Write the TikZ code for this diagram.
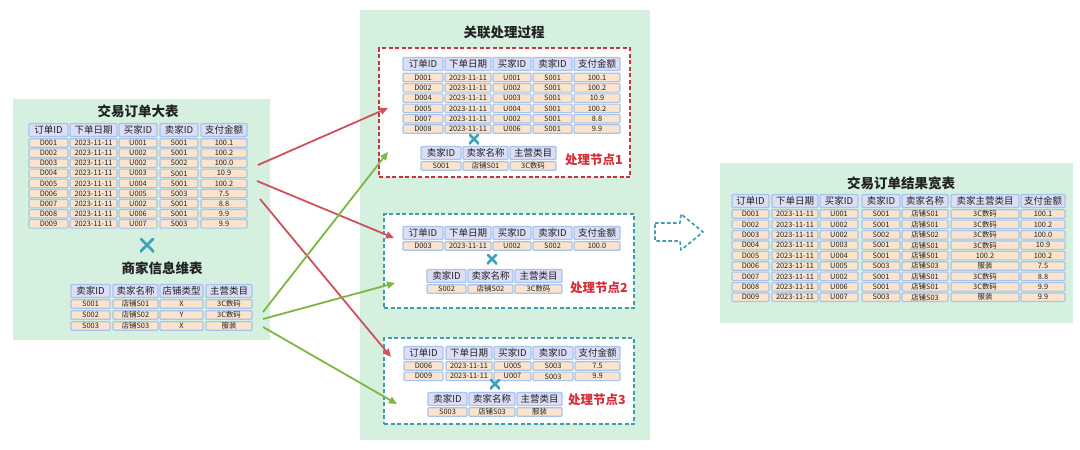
\documentclass[tikz,border=0pt]{standalone}
\usepackage{fontspec}
\setmainfont{Noto Sans CJK SC}
\usetikzlibrary{arrows.meta}
\definecolor{panelgreen}{HTML}{D5F0DF}
\definecolor{cellborder}{HTML}{A6C4EE}
\definecolor{hdrfill}{HTML}{DCDDF6}
\definecolor{datafill}{HTML}{FBE4CB}
\definecolor{redline}{HTML}{D0505C}
\definecolor{greenline}{HTML}{7CB744}
\definecolor{reddash}{HTML}{C9323F}
\definecolor{tealdash}{HTML}{3E9DB0}
\definecolor{xcol}{HTML}{3AA2BA}
\definecolor{labred}{HTML}{D42F3A}
\definecolor{ink}{HTML}{222222}
\newcommand\cellat[5]{\node[#1,minimum width={#3-#2}] at ({(#2+#3)/2},#4) {#5};}
\begin{document}
\begin{tikzpicture}[x=1pt,y=-1pt,
  panel/.style={fill=panelgreen,draw=none,inner sep=0pt,anchor=north west},
  nodebox/.style={fill=white,line width=2pt,dash pattern=on 4pt off 2.5pt,inner sep=0pt,anchor=north west},
  hc/.style={draw=cellborder,fill=hdrfill,line width=1.1pt,rounded corners=1pt,inner sep=0pt,minimum height=13pt,text=ink,font=\fontsize{9.5}{9.5}\selectfont},
  dc/.style={draw=cellborder,fill=datafill,line width=1.1pt,rounded corners=1pt,inner sep=0pt,minimum height=8.5pt,text=ink,font=\fontsize{7.4}{7.4}\selectfont},
  ttl/.style={text=ink,font=\fontsize{13.5}{13.5}\selectfont\bfseries},
  lab/.style={text=labred,font=\fontsize{12.5}{12.5}\selectfont\bfseries},
  xmark/.style={minimum size=#1,inner sep=0pt,path picture={\draw[xcol,line width=2.6pt] (path picture bounding box.north west)--(path picture bounding box.south east) (path picture bounding box.south west)--(path picture bounding box.north east);}},
  redarr/.style={draw=redline,line width=1.8pt,-{Triangle[length=8pt,width=7pt]}},
  grnarr/.style={draw=greenline,line width=1.8pt,-{Triangle[length=8pt,width=7pt]}}]
\useasboundingbox (0,0) rectangle (1080,450);
\fill[white] (0,0) rectangle (1080,450);
% ---------- panels ----------
\node[panel,minimum width=257pt,minimum height=241pt] (pL) at (13,99) {};
\node[panel,minimum width=290pt,minimum height=430pt] (pM) at (360,10) {};
\node[panel,minimum width=353pt,minimum height=160pt] (pR) at (720,163) {};
% ---------- left: order table ----------
\node[ttl] (tL) at (138,111) {交易订单大表};
\cellat{hc}{29}{68}{130}{订单ID}\cellat{hc}{70}{117}{130}{下单日期}\cellat{hc}{119}{157}{130}{买家ID}\cellat{hc}{160}{198}{130}{卖家ID}\cellat{hc}{201}{247}{130}{支付金额}
\foreach \y/\a/\b/\c/\d/\e in {143/D001/2023-11-11/U001/S001/100.1,153.1/D002/2023-11-11/U002/S001/100.2,163.2/D003/2023-11-11/U002/S002/100.0,173.3/D004/2023-11-11/U003/S001/10.9,183.4/D005/2023-11-11/U004/S001/100.2,193.5/D006/2023-11-11/U005/S003/7.5,203.6/D007/2023-11-11/U002/S001/8.8,213.7/D008/2023-11-11/U006/S001/9.9,223.8/D009/2023-11-11/U007/S003/9.9}{
  \cellat{dc}{29}{68}{\y}{\a}\cellat{dc}{70}{117}{\y}{\b}\cellat{dc}{119}{157}{\y}{\c}\cellat{dc}{160}{198}{\y}{\d}\cellat{dc}{201}{247}{\y}{\e}}
\node[xmark=14pt] (xL) at (147,245) {};
\node[ttl] (tD) at (162,268) {商家信息维表};
\cellat{hc}{71}{110}{291}{卖家ID}\cellat{hc}{113}{158}{291}{卖家名称}\cellat{hc}{160}{203}{291}{店铺类型}\cellat{hc}{206}{252}{291}{主营类目}
\foreach \y/\a/\b/\c/\d in {304/S001/店铺S01/X/3C数码,315/S002/店铺S02/Y/3C数码,326/S003/店铺S03/X/服装}{
  \cellat{dc}{71}{110}{\y}{\a}\cellat{dc}{113}{158}{\y}{\b}\cellat{dc}{160}{203}{\y}{\c}\cellat{dc}{206}{252}{\y}{\d}}
% ---------- middle ----------
\node[ttl] (tM) at (504,32) {关联处理过程};
\node[nodebox,draw=reddash,minimum width=251pt,minimum height=129pt] (n1) at (378,47) {};
\node[nodebox,draw=tealdash,minimum width=250pt,minimum height=94pt] (n2) at (383,213) {};
\node[nodebox,draw=tealdash,minimum width=250pt,minimum height=86pt] (n3) at (383,337) {};
% node 1
\cellat{hc}{403}{443}{64}{订单ID}\cellat{hc}{445}{491}{64}{下单日期}\cellat{hc}{493}{531}{64}{买家ID}\cellat{hc}{533}{572}{64}{卖家ID}\cellat{hc}{574}{620}{64}{支付金额}
\foreach \y/\a/\b/\c/\d/\e in {77.5/D001/2023-11-11/U001/S001/100.1,87.8/D002/2023-11-11/U002/S001/100.2,98.1/D004/2023-11-11/U003/S001/10.9,108.4/D005/2023-11-11/U004/S001/100.2,118.7/D007/2023-11-11/U002/S001/8.8,129/D008/2023-11-11/U006/S001/9.9}{
  \cellat{dc}{403}{443}{\y}{\a}\cellat{dc}{445}{491}{\y}{\b}\cellat{dc}{493}{531}{\y}{\c}\cellat{dc}{533}{572}{\y}{\d}\cellat{dc}{574}{620}{\y}{\e}}
\node[xmark=10pt] (x1) at (474,139) {};
\cellat{hc}{421}{461}{153}{卖家ID}\cellat{hc}{463}{508}{153}{卖家名称}\cellat{hc}{510}{556}{153}{主营类目}
\cellat{dc}{421}{461}{166}{S001}\cellat{dc}{463}{508}{166}{店铺S01}\cellat{dc}{510}{556}{166}{3C数码}
\node[lab] (l1) at (594,160) {处理节点1};
% node 2
\cellat{hc}{403}{443}{233}{订单ID}\cellat{hc}{445}{491}{233}{下单日期}\cellat{hc}{493}{531}{233}{买家ID}\cellat{hc}{533}{572}{233}{卖家ID}\cellat{hc}{574}{620}{233}{支付金额}
\cellat{dc}{403}{443}{246}{D003}\cellat{dc}{445}{491}{246}{2023-11-11}\cellat{dc}{493}{531}{246}{U002}\cellat{dc}{533}{572}{246}{S002}\cellat{dc}{574}{620}{246}{100.0}
\node[xmark=10pt] (x2) at (492,259) {};
\cellat{hc}{427}{466}{276}{卖家ID}\cellat{hc}{468}{513}{276}{卖家名称}\cellat{hc}{515}{562}{276}{主营类目}
\cellat{dc}{427}{466}{289}{S002}\cellat{dc}{468}{513}{289}{店铺S02}\cellat{dc}{515}{562}{289}{3C数码}
\node[lab] (l2) at (599,288) {处理节点2};
% node 3
\cellat{hc}{404}{443}{353}{订单ID}\cellat{hc}{446}{492}{353}{下单日期}\cellat{hc}{494}{531}{353}{买家ID}\cellat{hc}{533}{573}{353}{卖家ID}\cellat{hc}{575}{620}{353}{支付金额}
\foreach \y/\a/\b/\c/\d/\e in {366/D006/2023-11-11/U005/S003/7.5,376.3/D009/2023-11-11/U007/S003/9.9}{
  \cellat{dc}{404}{443}{\y}{\a}\cellat{dc}{446}{492}{\y}{\b}\cellat{dc}{494}{531}{\y}{\c}\cellat{dc}{533}{573}{\y}{\d}\cellat{dc}{575}{620}{\y}{\e}}
\node[xmark=10pt] (x3) at (495,384) {};
\cellat{hc}{428}{467}{399}{卖家ID}\cellat{hc}{469}{515}{399}{卖家名称}\cellat{hc}{517}{562}{399}{主营类目}
\cellat{dc}{428}{467}{412}{S003}\cellat{dc}{469}{515}{412}{店铺S03}\cellat{dc}{517}{562}{412}{服装}
\node[lab] (l3) at (597,400) {处理节点3};
% ---------- dashed block arrow ----------
\draw[tealdash,line width=1.7pt,dash pattern=on 3.5pt off 2.5pt,line join=round] (655,223) -- (680,223) -- (681,214) -- (703,232) -- (681,250) -- (680,241) -- (655,241) -- cycle;
% ---------- right: result table ----------
\node[ttl] (tR) at (901,183) {交易订单结果宽表};
\cellat{hc}{732}{769}{201}{订单ID}\cellat{hc}{772}{818}{201}{下单日期}\cellat{hc}{820}{858}{201}{买家ID}\cellat{hc}{862}{900}{201}{卖家ID}\cellat{hc}{902}{948}{201}{卖家名称}\cellat{hc}{951}{1019}{201}{卖家主营类目}\cellat{hc}{1021}{1065}{201}{支付金额}
\foreach \y/\a/\b/\c/\d/\e/\f/\g in {214/D001/2023-11-11/U001/S001/店铺S01/3C数码/100.1,224.4/D002/2023-11-11/U002/S001/店铺S01/3C数码/100.2,234.8/D003/2023-11-11/U002/S002/店铺S02/3C数码/100.0,245.2/D004/2023-11-11/U003/S001/店铺S01/3C数码/10.9,255.6/D005/2023-11-11/U004/S001/店铺S01/100.2/100.2,266/D006/2023-11-11/U005/S003/店铺S03/服装/7.5,276.4/D007/2023-11-11/U002/S001/店铺S01/3C数码/8.8,286.8/D008/2023-11-11/U006/S001/店铺S01/3C数码/9.9,297.2/D009/2023-11-11/U007/S003/店铺S03/服装/9.9}{
  \cellat{dc}{732}{769}{\y}{\a}\cellat{dc}{772}{818}{\y}{\b}\cellat{dc}{820}{858}{\y}{\c}\cellat{dc}{862}{900}{\y}{\d}\cellat{dc}{902}{948}{\y}{\e}\cellat{dc}{951}{1019}{\y}{\f}\cellat{dc}{1021}{1065}{\y}{\g}}
% ---------- connectors ----------
\coordinate (rs1) at (258,165); \coordinate (rt1) at (388,108);
\coordinate (rs2) at (257,181); \coordinate (rt2) at (394,238);
\coordinate (rs3) at (260,199); \coordinate (rt3) at (391,357);
\coordinate (gs1) at (263,312); \coordinate (gt1) at (388,152);
\coordinate (gs2) at (263,319); \coordinate (gt2) at (395,283);
\coordinate (gs3) at (263,327); \coordinate (gt3) at (397,404);
\draw[redarr] (rs1) -- (rt1);
\draw[redarr] (rs2) -- (rt2);
\draw[redarr] (rs3) -- (rt3);
\draw[grnarr] (gs1) -- (gt1);
\draw[grnarr] (gs2) -- (gt2);
\draw[grnarr] (gs3) -- (gt3);
\end{tikzpicture}
\end{document}
